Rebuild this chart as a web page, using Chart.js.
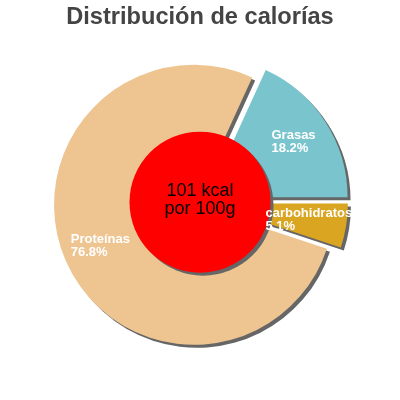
<!DOCTYPE html>
<html>
<head>
<meta charset="utf-8">
<script src="https://cdn.jsdelivr.net/npm/chart.js@4/dist/chart.umd.min.js"></script>
<style>
  html, body { margin: 0; padding: 0; background: #fff; }
  #wrap { width: 400px; height: 400px; }
</style>
</head>
<body>
<div id="wrap"><canvas id="c" width="400" height="400"></canvas></div>
<script>
const titleText = 'Distribución de calorías';
const categories = ['Grasas', 'carbohidratos', 'Proteínas'];
const percentages = [18.2, 5.1, 76.8];
const sliceColors = ['#7AC5CD', '#DAA520', '#EEC591'];
const centerLines = ['101 kcal', 'por 100g'];

const EXPLODE = [9, 8, 6.5];
const SHADOW = '#666666';
const total = percentages.reduce((a, b) => a + b, 0);
const rotationDeg = 90 - percentages[0] / total * 360;

const explodePlugin = {
  id: 'explode',
  beforeDatasetDraw(chart, args) {
    const ctx = chart.ctx;
    args.meta.data.forEach((arc, i) => {
      const half = (arc.startAngle + arc.endAngle) / 2;
      const o = EXPLODE[i] || 0;
      ctx.save();
      ctx.shadowColor = SHADOW;
      ctx.shadowOffsetX = 3;
      ctx.shadowOffsetY = 3;
      ctx.shadowBlur = 0;
      ctx.translate(Math.cos(half) * o, Math.sin(half) * o);
      arc.draw(ctx);
      ctx.restore();
    });
    return false;
  },
  afterDatasetsDraw(chart) {
    const ctx = chart.ctx;
    const meta = chart.getDatasetMeta(0);
    const first = meta.data[0];
    const cx = first.x, cy = first.y;
    // center disc
    ctx.save();
    ctx.shadowColor = SHADOW;
    ctx.shadowOffsetX = 3;
    ctx.shadowOffsetY = 3;
    ctx.shadowBlur = 0;
    ctx.beginPath();
    ctx.arc(cx, cy, 70.5, 0, Math.PI * 2);
    ctx.fillStyle = '#FF0000';
    ctx.fill();
    ctx.restore();
    ctx.save();
    ctx.fillStyle = '#000000';
    ctx.font = '18px "Liberation Sans", Arial, sans-serif';
    ctx.textAlign = 'center';
    ctx.textBaseline = 'middle';
    ctx.fillText(centerLines[0], cx, cy - 11);
    ctx.fillText(centerLines[1], cx, cy + 7);
    ctx.restore();
    // slice labels
    ctx.save();
    ctx.font = 'bold 13px "Liberation Sans", Arial, sans-serif';
    ctx.fillStyle = '#ffffff';
    ctx.textBaseline = 'middle';
    ctx.textAlign = 'left';
    meta.data.forEach((arc, i) => {
      const half = (arc.startAngle + arc.endAngle) / 2;
      const r = (EXPLODE[i] || 0) + arc.outerRadius * 0.73;
      const ax = cx + Math.cos(half) * r;
      const ay = cy + Math.sin(half) * r;
      const lines = [categories[i], percentages[i].toFixed(1) + '%'];
      const w = Math.max(...lines.map(l => ctx.measureText(l).width));
      lines.forEach((l, k) => {
        ctx.fillText(l, ax - w / 2, ay - 6.5 + k * 13);
      });
    });
    ctx.restore();
  }
};

new Chart(document.getElementById('c'), {
  type: 'pie',
  data: {
    labels: categories,
    datasets: [{
      data: percentages,
      backgroundColor: sliceColors,
      borderWidth: 0,
      offset: 0
    }]
  },
  options: {
    responsive: false,
    animation: false,
    rotation: rotationDeg,
    radius: 140,
    layout: { padding: { top: 0, bottom: 27.4, left: 0, right: 0 } },
    plugins: {
      legend: { display: false },
      tooltip: { enabled: false },
      title: {
        display: true,
        text: titleText,
        color: '#444444',
        font: { family: '"Liberation Sans", Arial, sans-serif', size: 23.6, weight: 'bold', lineHeight: 1.2 },
        padding: { top: 3, bottom: 0.5 }
      }
    }
  },
  plugins: [explodePlugin]
});
</script>
</body>
</html>
